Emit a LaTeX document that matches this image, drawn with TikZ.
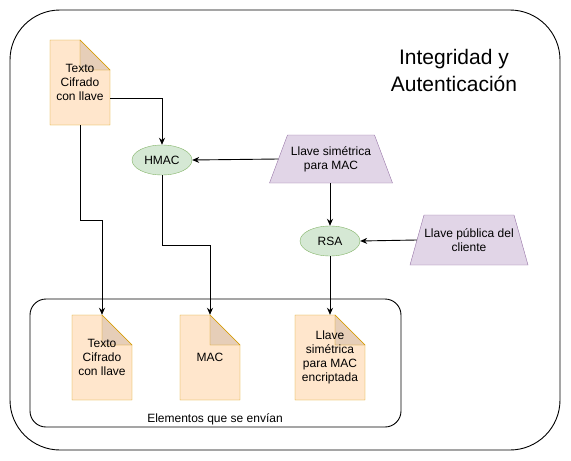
\documentclass[tikz,border=0pt]{standalone}
\usepackage{fontspec}
\setmainfont{Liberation Sans}
\usetikzlibrary{shapes.geometric,arrows.meta}

\definecolor{docfill}{HTML}{FFE6CC}
\definecolor{docline}{HTML}{D79B00}
\definecolor{foldfill}{RGB}{230,206,184}
\definecolor{keyfill}{HTML}{E1D5E7}
\definecolor{keyline}{HTML}{9673A6}
\definecolor{opfill}{HTML}{D5E8D4}
\definecolor{opline}{HTML}{82B366}

\tikzset{
  every node/.style={font=\fontsize{12}{14}\selectfont, align=center},
  arr/.style={line width=0.9pt, -{Stealth[length=7pt,width=6pt]}},
  opnode/.style={ellipse, draw=opline, fill=opfill, minimum width=60pt, minimum height=30pt, inner sep=0pt},
  frame/.style={draw, line width=0.9pt},
}

% folded document: name, x, y (centre), width, height, text
\newcommand{\notedoc}[6]{%
  \filldraw[fill=docfill, draw=docline] ({#2-#4/2},{#3-#5/2}) -- ({#2+#4/2-30},{#3-#5/2}) -- ({#2+#4/2},{#3-#5/2+30}) -- ({#2+#4/2},{#3+#5/2}) -- ({#2-#4/2},{#3+#5/2}) -- cycle;
  \filldraw[fill=foldfill, draw=docline] ({#2+#4/2-30},{#3-#5/2}) -- ({#2+#4/2-30},{#3-#5/2+30}) -- ({#2+#4/2},{#3-#5/2+30}) -- cycle;
  \node[minimum width=#4pt, minimum height=#5pt, inner sep=0pt] (#1) at (#2,#3) {#6};
}

% key (trapezoid): name, x, y (centre), bottom width, top width, height, text
\newcommand{\keytrap}[7]{%
  \filldraw[fill=keyfill, draw=keyline] ({#2-#4/2},{#3+#6/2}) -- ({#2-#5/2},{#3-#6/2}) -- ({#2+#5/2},{#3-#6/2}) -- ({#2+#4/2},{#3+#6/2}) -- cycle;
  \node[minimum width={(#4+#5)/2*1pt}, minimum height=#6pt, inner sep=0pt] (#1) at (#2,#3) {#7};
}

\begin{document}
\begin{tikzpicture}[x=1pt, y=-1pt]
    \useasboundingbox (0,0) rectangle (571,461);

    % Outer frame and title
    \draw[frame, rounded corners=50pt] (10,10) rectangle (560,450);
    \node[font=\fontsize{21}{27}\selectfont] (title) at (454,70) {Integridad y\\Autenticación};

    % Box of the elements that are sent
    \draw[frame, rounded corners=16pt] (30,299) rectangle (401,427);
    \node (sendlbl) at (215,419) {Elementos que se envían};

    % Documents
    \notedoc{cipher}{80}{82.5}{60}{85}{Texto\\Cifrado\\con llave}
    \notedoc{outcipher}{102}{357.5}{60}{85}{Texto\\Cifrado\\con llave}
    \notedoc{outmac}{210}{357.5}{60}{85}{MAC}
    \notedoc{outkey}{330}{357.5}{70}{85}{Llave\\simétrica\\para MAC\\encriptada}

    % Operations and keys
    \node[opnode] (hmac) at (162,160) {HMAC};
    \node[opnode] (rsa) at (330,241) {RSA};
    \keytrap{symkey}{331}{159}{123}{87}{48}{Llave simétrica\\para MAC}
    \keytrap{pubkey}{469}{240}{118}{90}{50}{Llave pública del\\cliente}

    % Connectors
    \draw[arr] ([yshift=-15.5pt]cipher.east) -| (hmac.north);
    \draw[arr] (symkey.west) -- (hmac.east);
    \draw[arr] (symkey.south -| rsa.north) -- (rsa.north);
    \draw[arr] (pubkey.west) -- (rsa.east);
    \draw[arr] (cipher.south) -- ++(0,95) -| (outcipher.north);
    \draw[arr] (hmac.south) -- ++(0,70) -| (outmac.north);
    \draw[arr] (rsa.south) -- (outkey.north);
\end{tikzpicture}
\end{document}
